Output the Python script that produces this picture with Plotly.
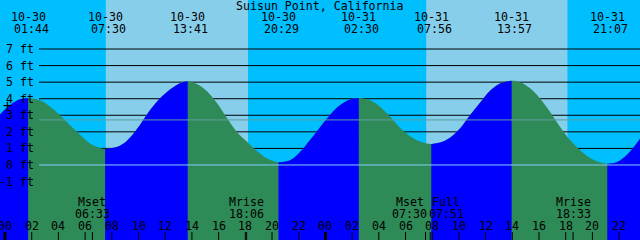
import plotly.graph_objects as go

# ---------------- data ----------------
title_text = "Suisun Point, California"

tide_dates = ["10-30", "10-30", "10-30", "10-30", "10-31", "10-31", "10-31", "10-31"]
tide_times = ["01:44", "07:30", "13:41", "20:29", "02:30", "07:56", "13:57", "21:07"]
tide_heights = [4.05, 0.97, 5.05, 0.16, 4.04, 1.27, 5.09, 0.08]

# heights (hours after 10-30 00:00, feet)
sample_hours = [-0.375, 0.375, 1.12, 2.62, 3.37, 4.12, 4.87, 5.62, 6.37, 7.12,
                8.37, 9.12, 9.87, 10.61, 11.36, 12.36, 13.11, 14.36, 15.11, 15.86,
                16.61, 17.36, 18.11, 18.85, 19.60, 21.35, 22.10, 22.85, 23.60, 24.34,
                25.09, 25.84, 27.34, 28.09, 28.84, 29.59, 30.34, 31.09, 32.58, 33.33,
                34.08, 34.83, 35.58, 36.33, 37.08, 38.58, 39.33, 40.07, 40.82, 41.57,
                42.32, 43.07, 43.82, 44.57, 45.81, 46.57, 47.32, 47.57]
sample_ft = [3.05, 3.62, 3.97, 3.90, 3.52, 3.00, 2.40, 1.82, 1.30, 1.02,
             1.08, 1.45, 2.15, 3.02, 3.80, 4.55, 4.94, 4.89, 4.47, 3.75,
             2.85, 2.01, 1.41, 0.86, 0.40, 0.28, 0.78, 1.50, 2.28, 3.02,
             3.60, 3.95, 3.90, 3.52, 2.93, 2.25, 1.74, 1.42, 1.35, 1.65,
             2.20, 3.00, 3.75, 4.48, 4.92, 4.99, 4.63, 4.02, 3.22, 2.31,
             1.51, 0.91, 0.42, 0.16, 0.16, 0.60, 1.31, 1.61]

sunrise_hours = [7.55, 31.55]
sunset_hours = [18.20, 42.13]

moon_dates = ["10-30", "10-30", "10-31", "10-31", "10-31"]
moon_names = ["Mset", "Mrise", "Mset", "Full", "Mrise"]
moon_times = ["06:33", "18:06", "07:30", "07:51", "18:33"]

ft_levels = [7, 6, 5, 4, 3, 2, 1, 0, -1]
msl_ft = 2.72
hour_ticks = list(range(0, 49, 2))

# ---------------- styles ----------------
X_RANGE = [-0.375, 47.565]
Y_RANGE = [-4.53, 9.96]
DAY = "#87CEEB"
NIGHT = "#00BFFF"
RISE = "#0000FF"
FALL = "#2E8B57"
FONT = dict(family="DejaVu Sans Mono", size=11.6, color="black")
W, H = 640, 240
label_shift = [0, 0, -16, 16, 0]


def to_hours(date, hm):
    day = 0 if date == "10-30" else 24
    hh, mm = hm.split(":")
    return day + int(hh) + int(mm) / 60.0


tide_hours = [to_hours(d, t) for d, t in zip(tide_dates, tide_times)]
moon_hours = [to_hours(d, t) for d, t in zip(moon_dates, moon_times)]

pts = sorted(list(zip(sample_hours, sample_ft)) + list(zip(tide_hours, tide_heights)))
all_t = [p[0] for p in pts]
all_h = [p[1] for p in pts]

fig = go.Figure()
BOTTOM = -10

# whole water area in falling colour
fig.add_trace(go.Scatter(x=[all_t[0], all_t[-1]], y=[BOTTOM, BOTTOM], mode="lines",
                         line=dict(width=0), hoverinfo="skip", showlegend=False))
fig.add_trace(go.Scatter(x=all_t, y=all_h, mode="lines", line=dict(width=0, shape="spline"),
                         fill="tonexty", fillcolor=FALL, hoverinfo="skip", showlegend=False))

# rising segments overlaid in blue
bounds = [all_t[0]] + tide_hours + [all_t[-1]]
for i in range(len(bounds) - 1):
    a, b = bounds[i], bounds[i + 1]
    seg = [(t, h) for t, h in pts if a - 1e-9 <= t <= b + 1e-9]
    if len(seg) < 2 or seg[-1][1] <= seg[0][1]:
        continue
    st = [p[0] for p in seg]
    sh = [p[1] for p in seg]
    fig.add_trace(go.Scatter(x=[st[0], st[-1]], y=[BOTTOM, BOTTOM], mode="lines",
                             line=dict(width=0), hoverinfo="skip", showlegend=False))
    fig.add_trace(go.Scatter(x=st, y=sh, mode="lines", line=dict(width=0, shape="spline"),
                             fill="tonexty", fillcolor=RISE, hoverinfo="skip", showlegend=False))

shapes = []
for sr, ss in zip(sunrise_hours, sunset_hours):
    shapes.append(dict(type="rect", xref="x", yref="paper", x0=sr, x1=ss, y0=0, y1=1,
                       fillcolor=DAY, line=dict(width=0), layer="below"))
for lv in ft_levels:
    shapes.append(dict(type="line", xref="paper", yref="y", x0=39 / W, x1=1, y0=lv, y1=lv,
                       line=dict(color="black", width=1), layer="below"))
# datum and MSL lines
shapes.append(dict(type="line", xref="paper", yref="y", x0=39 / W, x1=1, y0=0, y1=0,
                   line=dict(color="#87CEFA", width=1), layer="above"))
shapes.append(dict(type="line", xref="paper", yref="y", x0=39 / W, x1=1, y0=msl_ft, y1=msl_ft,
                   line=dict(color="#5F9EA0", width=1), layer="above"))
# bottom ticks
for h in hour_ticks:
    wdt = 3 if h % 24 == 0 else 1
    shapes.append(dict(type="line", xref="x", yref="paper", x0=h, x1=h, y0=0, y1=8 / H,
                       line=dict(color="black", width=wdt), layer="above"))
for mh in moon_hours:
    shapes.append(dict(type="line", xref="x", yref="paper", x0=mh, x1=mh, y0=0, y1=8 / H,
                       line=dict(color="black", width=1), layer="above"))

ann = []


def py(px):
    return 1 - px / H


ann.append(dict(text=title_text, x=0.5, y=py(6), xref="paper", yref="paper",
                showarrow=False, font=FONT, xanchor="center", yanchor="middle"))
for t, d, tm in zip(tide_hours, tide_dates, tide_times):
    ann.append(dict(text=d, x=t, y=py(17), xref="x", yref="paper", showarrow=False,
                    font=FONT, xanchor="center", yanchor="middle"))
    ann.append(dict(text=tm, x=t, y=py(29), xref="x", yref="paper", showarrow=False,
                    font=FONT, xanchor="center", yanchor="middle", xshift=3))
for lv in ft_levels:
    ann.append(dict(text=f"{lv} ft", x=36 / W, y=lv, xref="paper", yref="y", showarrow=False,
                    font=FONT, xanchor="right", yanchor="middle"))
ann.append(dict(text="+", x=7.5 / W, y=py(106), xref="paper", yref="paper", showarrow=False,
                font=dict(family="DejaVu Sans Mono", size=15, color="black"),
                xanchor="center", yanchor="middle"))
for mh, nm, tm, sh in zip(moon_hours, moon_names, moon_times, label_shift):
    ann.append(dict(text=nm, x=mh, y=py(201.5), xref="x", yref="paper", showarrow=False,
                    font=FONT, xanchor="center", yanchor="middle", xshift=sh))
    ann.append(dict(text=tm, x=mh, y=py(213.5), xref="x", yref="paper", showarrow=False,
                    font=FONT, xanchor="center", yanchor="middle", xshift=sh))
for h in hour_ticks:
    ann.append(dict(text=f"{h % 24:02d}", x=h, y=py(225.5), xref="x", yref="paper",
                    showarrow=False, font=FONT, xanchor="center", yanchor="middle"))

fig.update_layout(
    width=W, height=H, margin=dict(l=0, r=0, t=0, b=0),
    paper_bgcolor=NIGHT, plot_bgcolor=NIGHT,
    xaxis=dict(range=X_RANGE, visible=False, fixedrange=True),
    yaxis=dict(range=Y_RANGE, visible=False, fixedrange=True),
    shapes=shapes, annotations=ann, showlegend=False,
)

fig.write_html("out.html", config={"displayModeBar": False})
